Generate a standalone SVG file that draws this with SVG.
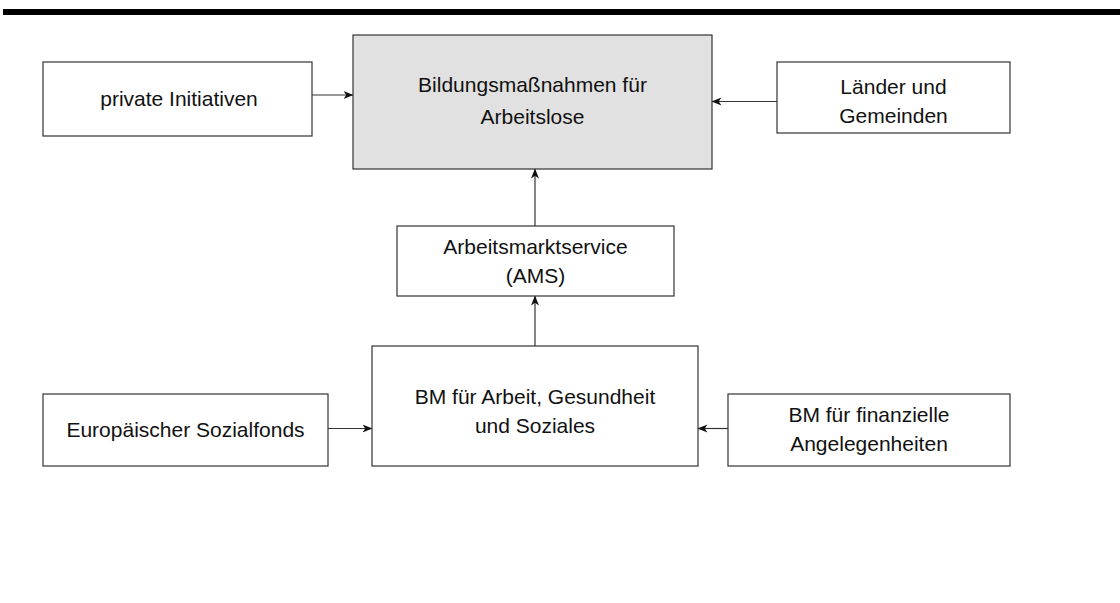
<svg xmlns="http://www.w3.org/2000/svg" width="1120" height="603" viewBox="0 0 1120 603">
<style>
  .box { fill: #ffffff; stroke: #333333; stroke-width: 1.2; }
  .main { fill: #e1e1e1; stroke: #333333; stroke-width: 1.2; }
  .lbl { font-family: "Liberation Sans", Arial, Helvetica, sans-serif; font-size: 21px; fill: #111111; text-anchor: middle; }
  .conn { stroke: #333333; stroke-width: 1.2; fill: none; marker-end: url(#arr); }
</style>
<defs>
  <marker id="arr" markerWidth="11" markerHeight="9" refX="9.5" refY="4.5" orient="auto" markerUnits="userSpaceOnUse">
    <path d="M0,0.5 L10,4.5 L0,8.5 L2.8,4.5 z" fill="#111111"/>
  </marker>
</defs>
<rect x="3" y="9" width="1117" height="6" fill="#000000"/>
<g id="connectors">
  <line class="conn" x1="312" y1="95" x2="353" y2="95"/>
  <line class="conn" x1="777" y1="101.5" x2="712" y2="101.5"/>
  <line class="conn" x1="535" y1="226" x2="535" y2="169"/>
  <line class="conn" x1="535" y1="346" x2="535" y2="296"/>
  <line class="conn" x1="328" y1="428.5" x2="372" y2="428.5"/>
  <line class="conn" x1="728" y1="428.5" x2="698" y2="428.5"/>
</g>
<g id="node-main">
  <rect class="main" x="353" y="35" width="359" height="134"/>
  <text class="lbl" x="532.5" y="92">Bildungsmaßnahmen für</text>
  <text class="lbl" x="532.5" y="124">Arbeitslose</text>
</g>
<g id="node-private">
  <rect class="box" x="43" y="62" width="269" height="74"/>
  <text class="lbl" x="179" y="106">private Initiativen</text>
</g>
<g id="node-laender">
  <rect class="box" x="777" y="62" width="233" height="71"/>
  <text class="lbl" x="893.5" y="94">Länder und</text>
  <text class="lbl" x="893.5" y="123">Gemeinden</text>
</g>
<g id="node-ams">
  <rect class="box" x="397" y="226" width="277" height="70"/>
  <text class="lbl" x="535.5" y="254">Arbeitsmarktservice</text>
  <text class="lbl" x="535.5" y="283">(AMS)</text>
</g>
<g id="node-bmags">
  <rect class="box" x="372" y="346" width="326" height="120"/>
  <text class="lbl" x="535" y="404">BM für Arbeit, Gesundheit</text>
  <text class="lbl" x="535" y="433">und Soziales</text>
</g>
<g id="node-esf">
  <rect class="box" x="43" y="394" width="285" height="72"/>
  <text class="lbl" x="185.5" y="437">Europäischer Sozialfonds</text>
</g>
<g id="node-bmf">
  <rect class="box" x="728" y="394" width="282" height="72"/>
  <text class="lbl" x="869" y="422">BM für finanzielle</text>
  <text class="lbl" x="869" y="451">Angelegenheiten</text>
</g>
</svg>
